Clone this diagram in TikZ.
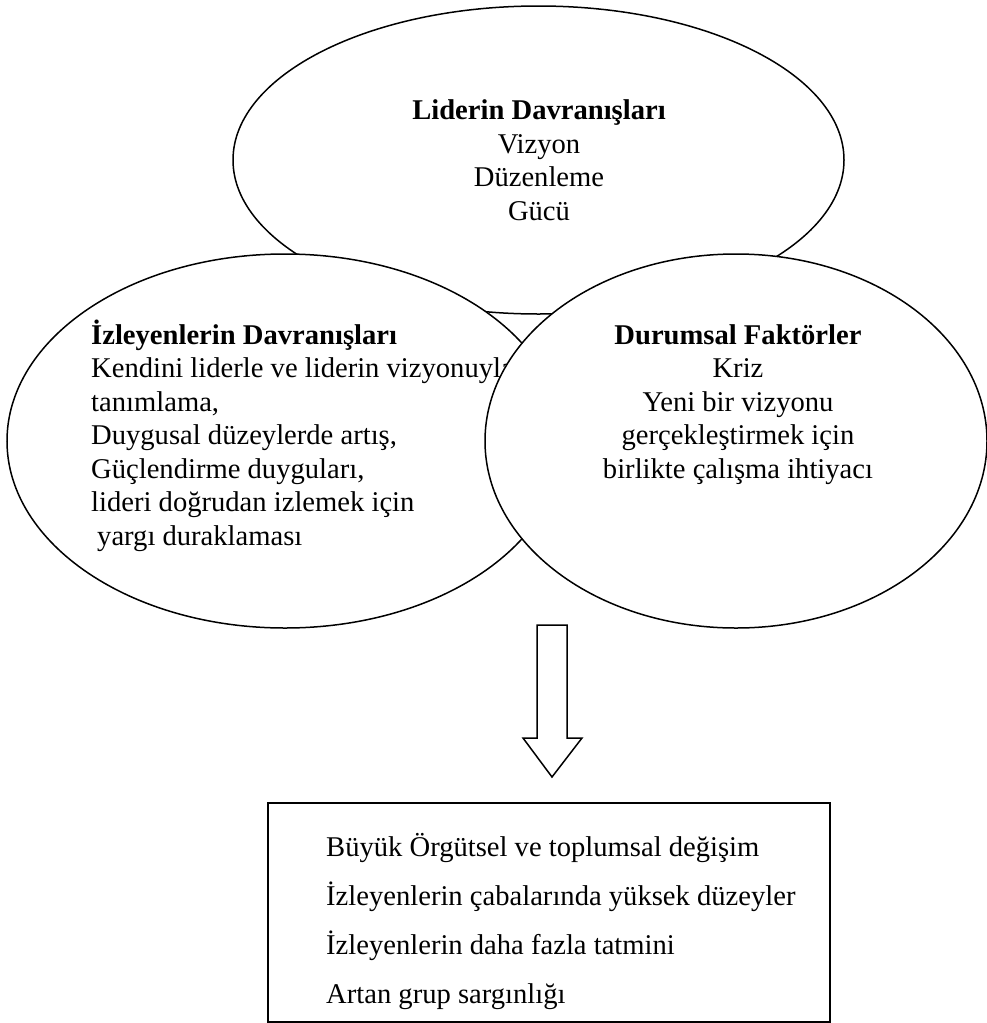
\documentclass[tikz,border=0pt]{standalone}
\usepackage{fontspec}
\setmainfont{Liberation Serif}
\usetikzlibrary{shapes.geometric, positioning}

\begin{document}
\begin{tikzpicture}[x=1pt, y=-1pt,
    oval/.style={draw, ellipse, fill=white, line width=1.5pt, inner sep=0pt},
    metin/.style={inner sep=0pt, font=\fontsize{28.6}{33.5}\selectfont},
    liste/.style={inner sep=0pt, font=\fontsize{28.6}{49}\selectfont},
    kutu/.style={draw, line width=2pt, inner sep=0pt}]
  \useasboundingbox (0,0) rectangle (986,1023);

  % liderin davranislari
  \node[oval, minimum width=611pt, minimum height=308pt] (lider) at (538.5,160) {};
  \node[metin, align=center, anchor=base] (lidermetin) at (539,220)
    {\textbf{Liderin Davranışları}\\Vizyon\\Düzenleme\\Gücü};

  % izleyenlerin davranislari
  \node[oval, minimum width=556pt, minimum height=374pt] (izleyen) at (285,441) {};
  \node[metin, align=left, anchor=base west] (izleyenmetin) at (91,545)
    {\textbf{İzleyenlerin Davranışları}\\Kendini liderle ve liderin vizyonuyla\\tanımlama,\\Duygusal düzeylerde artış,\\Güçlendirme duyguları,\\lideri doğrudan izlemek için\\\hspace*{6pt}yargı duraklaması};

  % durumsal faktorler
  \node[oval, minimum width=502pt, minimum height=374pt] (durum) at (736,441) {};
  \node[metin, align=center, anchor=base] (durummetin) at (738,478)
    {\textbf{Durumsal Faktörler}\\Kriz\\Yeni bir vizyonu\\gerçekleştirmek için\\birlikte çalışma ihtiyacı};

  % blok ok
  \coordinate (ok) at (552,625);
  \draw[line width=1.5pt, fill=white] (ok) ++(-15,0) -- ++(30,0) -- ++(0,113) -- ++(15,0)
    -- ++(-30,39) -- ++(-29,-39) -- ++(14,0) -- cycle;

  % sonuclar
  \node[kutu, anchor=north west, minimum width=562pt, minimum height=219pt] (sonuc) at (267,802) {};
  \node[liste, align=left, anchor=base west] (sonucmetin) at (326,1003)
    {Büyük Örgütsel ve toplumsal değişim\\İzleyenlerin çabalarında yüksek düzeyler\\İzleyenlerin daha fazla tatmini\\Artan grup sargınlığı};
\end{tikzpicture}
\end{document}
